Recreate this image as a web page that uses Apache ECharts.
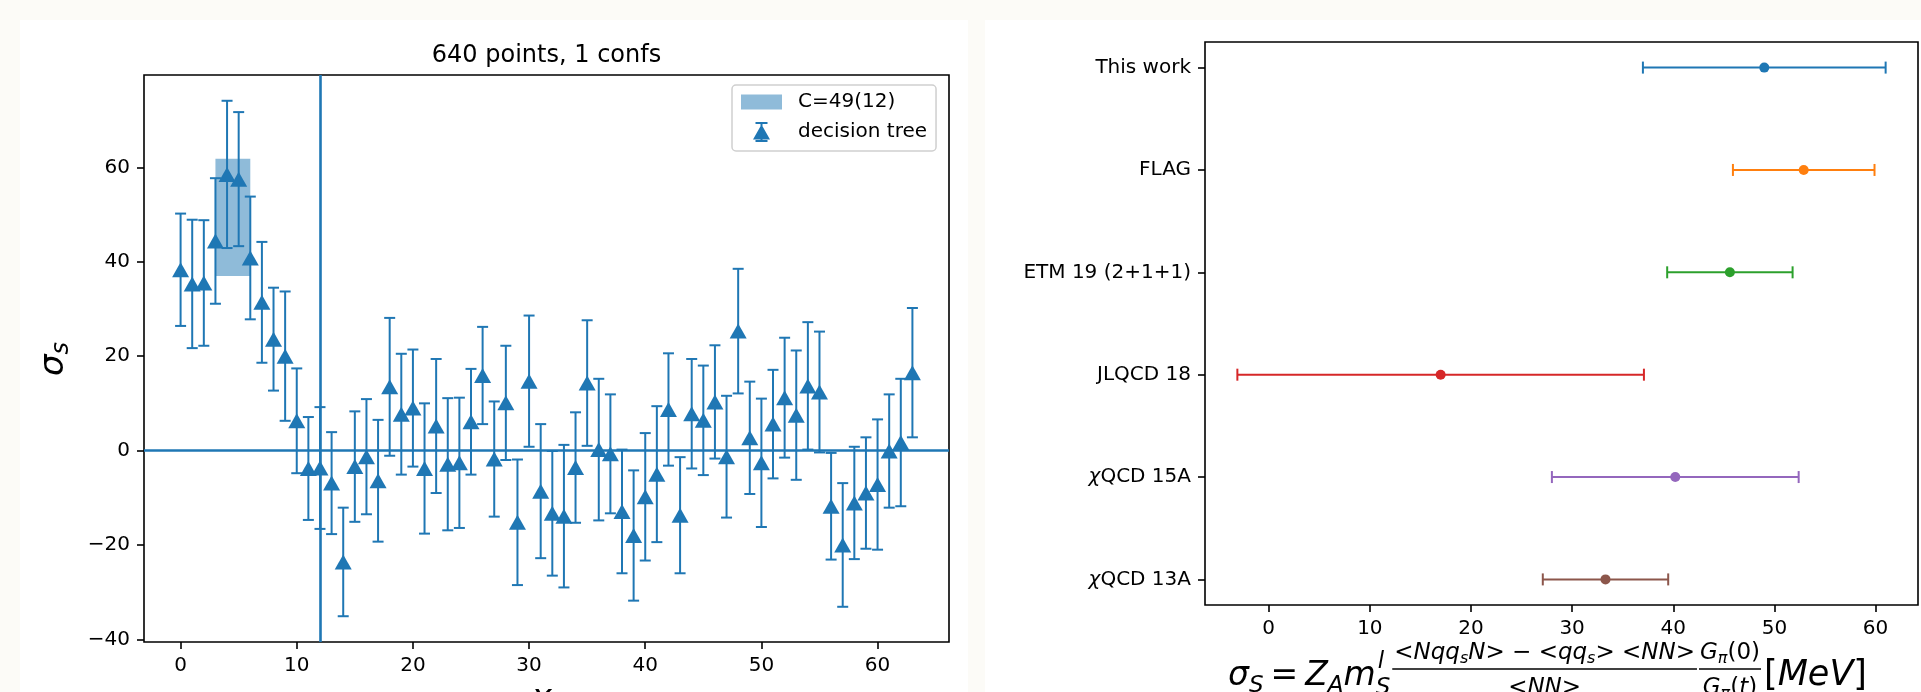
<!DOCTYPE html>
<html>
<head>
<meta charset="utf-8">
<script src="https://cdn.jsdelivr.net/npm/echarts@6/dist/echarts.min.js"></script>
<style>
html, body { margin: 0; padding: 0; background: #fcfbf7; }
#wrap { position: relative; width: 1921px; height: 692px; overflow: hidden; }
.sheet { position: absolute; background: #fff; }
#main { position: absolute; left: 0; top: 0; width: 1921px; height: 692px; }
</style>
</head>
<body>
<div id="wrap">
  <div class="sheet" style="left:20px;top:20px;width:948px;height:672px"></div>
  <div class="sheet" style="left:985px;top:20px;width:936px;height:672px"></div>
  <div id="main"></div>
</div>
<script>
// data ------------------
var pointIndex = [0, 1, 2, 3, 4, 5, 6, 7, 8, 9, 10, 11, 12, 13, 14, 15, 16, 17, 18, 19, 20, 21, 22, 23, 24, 25, 26, 27, 28, 29, 30, 31,
                  32, 33, 34, 35, 36, 37, 38, 39, 40, 41, 42, 43, 44, 45, 46, 47, 48, 49, 50, 51, 52, 53, 54, 55, 56, 57, 58, 59, 60, 61, 62, 63];
var sigmaS = [38.3, 35.3, 35.5, 44.4, 58.5, 57.5, 40.8, 31.4, 23.6, 20.0,
              6.3, -3.8, -3.7, -6.9, -23.6, -3.4, -1.3, -6.4, 13.5, 7.7,
              9.0, -3.8, 5.2, -2.9, -2.6, 6.1, 15.9, -1.8, 10.1, -15.2,
              14.7, -8.6, -13.3, -13.9, -3.6, 14.3, 0.2, -0.7, -12.9, -18.0,
              -9.8, -5.0, 8.7, -13.7, 7.8, 6.4, 10.3, -1.3, 25.3, 2.7,
              -2.6, 5.6, 11.2, 7.5, 13.7, 12.4, -11.8, -20.0, -11.1, -9.0,
              -7.2, -0.1, 1.7, 16.5];
var sigmaErr = [11.9, 13.6, 13.3, 13.3, 15.6, 14.2, 13.0, 12.8, 10.9, 13.7,
                11.1, 10.9, 12.9, 10.8, 11.5, 11.7, 12.2, 12.9, 14.6, 12.8,
                12.4, 13.8, 14.2, 14.0, 13.8, 11.2, 10.3, 12.2, 12.1, 13.3,
                13.9, 14.2, 13.2, 15.1, 11.7, 13.3, 15.0, 12.6, 13.1, 13.8,
                13.5, 14.4, 11.9, 12.3, 11.6, 11.6, 12.0, 12.9, 13.2, 11.9,
                13.6, 11.5, 12.7, 13.7, 13.5, 12.8, 11.3, 13.1, 11.9, 11.8,
                13.8, 12.0, 13.5, 13.7];
var bandRange = [3, 6];
var bandCenter = 49.4;
var bandErr = 12.4;
var vlineX = 12;
var hlineY = 0;

var refLabels = ['This work', 'FLAG', 'ETM 19 (2+1+1)', 'JLQCD 18', 'χQCD 15A', 'χQCD 13A'];
var refValues = [49.0, 52.9, 45.6, 17.0, 40.2, 33.3];
var refErrs = [12.0, 7.0, 6.2, 20.1, 12.2, 6.2];

var leftXTicks = [0, 10, 20, 30, 40, 50, 60];
var leftYTicks = [-40, -20, 0, 20, 40, 60];
var rightXTicks = [0, 10, 20, 30, 40, 50, 60];
var rightYTicks = [0, 1, 2, 3, 4, 5];

var tab10 = ['#1f77b4', '#ff7f0e', '#2ca02c', '#d62728', '#9467bd', '#8c564b'];
var FONT = 'DejaVu Sans';

// 图表实例化------------------
var myChart = echarts.init(document.getElementById('main'), null, { renderer: 'canvas' });

var errData = pointIndex.map(function (x, i) { return [x, sigmaS[i], sigmaErr[i]]; });
var markerData = pointIndex.map(function (x, i) { return [x, sigmaS[i]]; });
var refErrData = refValues.map(function (v, i) { return [v, i, refErrs[i]]; });
var refDotData = refValues.map(function (v, i) {
    return { value: [v, i], itemStyle: { color: tab10[i] } };
});

function minusFmt(v) { return String(v).replace('-', '\u2212'); }

// text width helper for the formula layout
var mctx = document.createElement('canvas').getContext('2d');
function tw(txt, size, italic) {
    mctx.font = (italic ? 'italic ' : '') + size + 'px "' + FONT + '"';
    return mctx.measureText(txt).width;
}

function renderVErr(params, api) {
    var x = api.value(0), v = api.value(1), e = api.value(2);
    var top = api.coord([x, v + e]);
    var bot = api.coord([x, v - e]);
    var cap = 5.5;
    var st = { stroke: '#1f77b4', lineWidth: 2 };
    return {
        type: 'group',
        children: [
            { type: 'line', shape: { x1: top[0], y1: top[1], x2: bot[0], y2: bot[1] }, style: st },
            { type: 'line', shape: { x1: top[0] - cap, y1: top[1], x2: top[0] + cap, y2: top[1] }, style: st },
            { type: 'line', shape: { x1: bot[0] - cap, y1: bot[1], x2: bot[0] + cap, y2: bot[1] }, style: st }
        ]
    };
}

function renderHErr(params, api) {
    var v = api.value(0), y = api.value(1), e = api.value(2);
    var l = api.coord([v - e, y]);
    var r = api.coord([v + e, y]);
    var cap = 6;
    var st = { stroke: tab10[params.dataIndex], lineWidth: 2 };
    return {
        type: 'group',
        children: [
            { type: 'line', shape: { x1: l[0], y1: l[1], x2: r[0], y2: r[1] }, style: st },
            { type: 'line', shape: { x1: l[0], y1: l[1] - cap, x2: l[0], y2: l[1] + cap }, style: st },
            { type: 'line', shape: { x1: r[0], y1: r[1] - cap, x2: r[0], y2: r[1] + cap }, style: st }
        ]
    };
}

function renderBand(params, api) {
    var p1 = api.coord([api.value(0), api.value(3)]);
    var p2 = api.coord([api.value(1), api.value(2)]);
    return {
        type: 'rect',
        shape: { x: p1[0], y: p1[1], width: p2[0] - p1[0], height: p2[1] - p1[1] },
        style: { fill: 'rgba(31,119,180,0.5)' }
    };
}

var tickStyle = { show: true, length: 7, lineStyle: { color: '#000', width: 1.6 } };
var labelBase = { fontFamily: FONT, fontSize: 20, color: '#000', margin: 14 };

var F = 23, FS = 16;
var richFrac = {
    i: { fontFamily: FONT, fontSize: F, fontStyle: 'italic', color: '#000' },
    u: { fontFamily: FONT, fontSize: F, color: '#000' },
    b: { fontFamily: FONT, fontSize: FS, fontStyle: 'italic', color: '#000', padding: [12, 0, 0, 0] }
};

// formula under the right panel ---------------------
function txt(x, y, s, size, italic) {
    return {
        type: 'text', x: x, y: y, z: 100,
        style: { text: s, fontFamily: FONT, fontSize: size, fontStyle: italic ? 'italic' : 'normal', fill: '#000', align: 'left', verticalAlign: 'middle' }
    };
}
function fracLine(x1, x2) {
    return { type: 'line', z: 100, shape: { x1: x1, y1: 669, x2: x2, y2: 669 }, style: { stroke: '#000', lineWidth: 1.5 } };
}
function richTxt(x, y, s) {
    return { type: 'text', x: x, y: y, z: 100, style: { text: s, rich: richFrac, align: 'center', verticalAlign: 'middle' } };
}
var formula = [];
(function () {
    var M = 33, S = 23, yMain = 676, ySub = 686, ySup = 662, yNum = 653, yDen = 688;
    var x = 1228;
    formula.push(txt(x, yMain, 'σ', M, true)); x += tw('σ', M, true);
    formula.push(txt(x, ySub, 'S', S, true)); x += tw('S', S, true) + 7;
    formula.push(txt(x, yMain, '=', M, false)); x += tw('=', M, false) + 7;
    formula.push(txt(x, yMain, 'Z', M, true)); x += tw('Z', M, true);
    formula.push(txt(x, ySub, 'A', S, true)); x += tw('A', S, true);
    formula.push(txt(x, yMain, 'm', M, true)); x += tw('m', M, true);
    formula.push(txt(x + 2, ySup, 'l', S, true));
    formula.push(txt(x, ySub + 2, 'S', S, true));
    x += tw('S', S, true) + 2;

    var numW = tw('<Nqq', F, true) + tw('s', FS, true) + tw('N> ', F, true) + tw('−', F, false) +
               tw(' <qq', F, true) + tw('s', FS, true) + tw('> <NN>', F, true) + 4;
    formula.push(fracLine(x, x + numW));
    formula.push(richTxt(x + numW / 2, yNum, '{i|<Nqq}{b|s}{i|N> }{u|−}{i| <qq}{b|s}{i|> <NN>}'));
    formula.push(richTxt(x + numW / 2, yDen, '{i|<NN>}'));
    x += numW + 2;

    var gW = tw('G', F, true) + tw('π', FS, true) + tw('(0)', F, false) + 2;
    formula.push(fracLine(x, x + gW));
    formula.push(richTxt(x + gW / 2, yNum, '{i|G}{b|π}{u|(0)}'));
    formula.push(richTxt(x + gW / 2, yDen, '{i|G}{b|π}{u|(}{i|t}{u|)}'));
    x += gW + 3;

    var B = 35;
    formula.push({
        type: 'text', x: x, y: yMain, z: 100,
        style: {
            text: '{u|[}{i|MeV}{u|]}', align: 'left', verticalAlign: 'middle',
            rich: { u: { fontFamily: FONT, fontSize: B, color: '#000' }, i: { fontFamily: FONT, fontSize: B, fontStyle: 'italic', color: '#000' } }
        }
    });
})();

option = {
    animation: false,
    textStyle: { fontFamily: FONT },
    grid: [
        { left: 144, top: 75, width: 805, height: 567, show: true, borderColor: '#000', borderWidth: 1.6, backgroundColor: 'transparent' },
        { left: 1205, top: 42, width: 713, height: 563, show: true, borderColor: '#000', borderWidth: 1.6, backgroundColor: 'transparent' }
    ],
    legend: {
        orient: 'vertical',
        left: 732,
        top: 85,
        padding: [7, 9, 9, 9],
        itemWidth: 41,
        itemHeight: 20,
        itemGap: 10,
        selectedMode: false,
        backgroundColor: '#fff',
        borderColor: '#cfcfcf',
        borderWidth: 1.5,
        borderRadius: 4,
        textStyle: { fontFamily: FONT, fontSize: 20, color: '#000', padding: [0, 0, 0, 11] },
        data: [
            { name: 'C=49(12)', icon: 'path://M0,0L41,0L41,15L0,15Z' },
            { name: 'decision tree', icon: 'path://M2.5,0L14.5,0L14.5,2L2.5,2Z M2.5,18L14.5,18L14.5,20L2.5,20Z M7.5,0L9.5,0L9.5,20L7.5,20Z M8.5,2.5L17,17.5L0,17.5Z' }
        ]
    },
    xAxis: [
        {
            type: 'value', gridIndex: 0, min: -3.15, max: 66.15,
            axisLine: { show: false, onZero: false },
            axisTick: Object.assign({ customValues: leftXTicks }, tickStyle),
            axisLabel: Object.assign({ customValues: leftXTicks, formatter: minusFmt }, labelBase),
            splitLine: { show: false }
        },
        {
            type: 'value', gridIndex: 1, min: -6.3, max: 64.2,
            axisLine: { show: false, onZero: false },
            axisTick: Object.assign({ customValues: rightXTicks }, tickStyle),
            axisLabel: Object.assign({ customValues: rightXTicks, formatter: minusFmt }, labelBase),
            splitLine: { show: false }
        }
    ],
    yAxis: [
        {
            type: 'value', gridIndex: 0, min: -40.56, max: 79.56,
            axisLine: { show: false, onZero: false },
            axisTick: Object.assign({ customValues: leftYTicks }, tickStyle),
            axisLabel: Object.assign({ customValues: leftYTicks, formatter: minusFmt }, labelBase),
            splitLine: { show: false }
        },
        {
            type: 'value', gridIndex: 1, min: -0.25, max: 5.25, inverse: true,
            axisLine: { show: false, onZero: false },
            axisTick: Object.assign({ customValues: rightYTicks }, tickStyle),
            axisLabel: Object.assign({
                customValues: rightYTicks,
                formatter: function (v) {
                    var s = refLabels[Math.round(v)];
                    if (s.charAt(0) === 'χ') return '{c|χ}' + s.slice(1);
                    return s;
                },
                rich: { c: { fontFamily: FONT, fontSize: 20, fontStyle: 'italic', color: '#000' } }
            }, labelBase),
            splitLine: { show: false }
        }
    ],
    series: [
        {
            name: 'C=49(12)',
            type: 'custom',
            xAxisIndex: 0, yAxisIndex: 0,
            z: 1,
            silent: true,
            itemStyle: { color: 'rgba(31,119,180,0.5)' },
            renderItem: renderBand,
            encode: { x: [0, 1], y: [2, 3] },
            data: [[bandRange[0], bandRange[1], bandCenter - bandErr, bandCenter + bandErr]]
        },
        {
            name: 'refLines',
            type: 'line',
            xAxisIndex: 0, yAxisIndex: 0,
            z: 2,
            data: [],
            markLine: {
                silent: true,
                symbol: ['none', 'none'],
                label: { show: false },
                lineStyle: { color: '#1f77b4', width: 2.6, type: 'solid' },
                emphasis: { disabled: true },
                data: [{ yAxis: hlineY }, { xAxis: vlineX }]
            }
        },
        {
            name: 'decision tree err',
            type: 'custom',
            xAxisIndex: 0, yAxisIndex: 0,
            z: 3,
            silent: true,
            renderItem: renderVErr,
            encode: { x: 0, y: 1 },
            data: errData
        },
        {
            name: 'decision tree',
            type: 'scatter',
            xAxisIndex: 0, yAxisIndex: 0,
            z: 4,
            silent: true,
            symbol: 'triangle',
            symbolSize: [17, 15],
            itemStyle: { color: '#1f77b4', opacity: 1 },
            data: markerData
        },
        {
            name: 'ref err',
            type: 'custom',
            xAxisIndex: 1, yAxisIndex: 1,
            z: 3,
            silent: true,
            renderItem: renderHErr,
            encode: { x: 0, y: 1 },
            data: refErrData
        },
        {
            name: 'ref',
            type: 'scatter',
            xAxisIndex: 1, yAxisIndex: 1,
            z: 4,
            silent: true,
            symbol: 'circle',
            symbolSize: 10,
            itemStyle: { opacity: 1 },
            data: refDotData
        }
    ],
    graphic: [
        {
            type: 'text', x: 546.5, y: 56, z: 100,
            style: { text: '640 points, 1 confs', fontFamily: FONT, fontSize: 24, fill: '#000', align: 'center', verticalAlign: 'middle' }
        },
        // y label of the left panel
        {
            type: 'text', x: 54, y: 359, z: 100, rotation: Math.PI / 2,
            style: {
                text: '{i|σ}{b|s}', align: 'center', verticalAlign: 'middle',
                rich: {
                    i: { fontFamily: FONT, fontSize: 34, fontStyle: 'italic', color: '#000' },
                    b: { fontFamily: FONT, fontSize: 24, fontStyle: 'italic', color: '#000', padding: [16, 0, 0, 0] }
                }
            }
        },
        // x label of the left panel, mostly cut off at the bottom edge
        {
            type: 'text', x: 546.5, y: 699, z: 100,
            style: {
                text: '{i|x}{b|t}', align: 'center', verticalAlign: 'middle',
                rich: {
                    i: { fontFamily: FONT, fontSize: 34, fontStyle: 'italic', color: '#000' },
                    b: { fontFamily: FONT, fontSize: 24, fontStyle: 'italic', color: '#000', padding: [16, 0, 0, 0] }
                }
            }
        }
    ].concat(formula)
};

myChart.setOption(option);
</script>
</body>
</html>
